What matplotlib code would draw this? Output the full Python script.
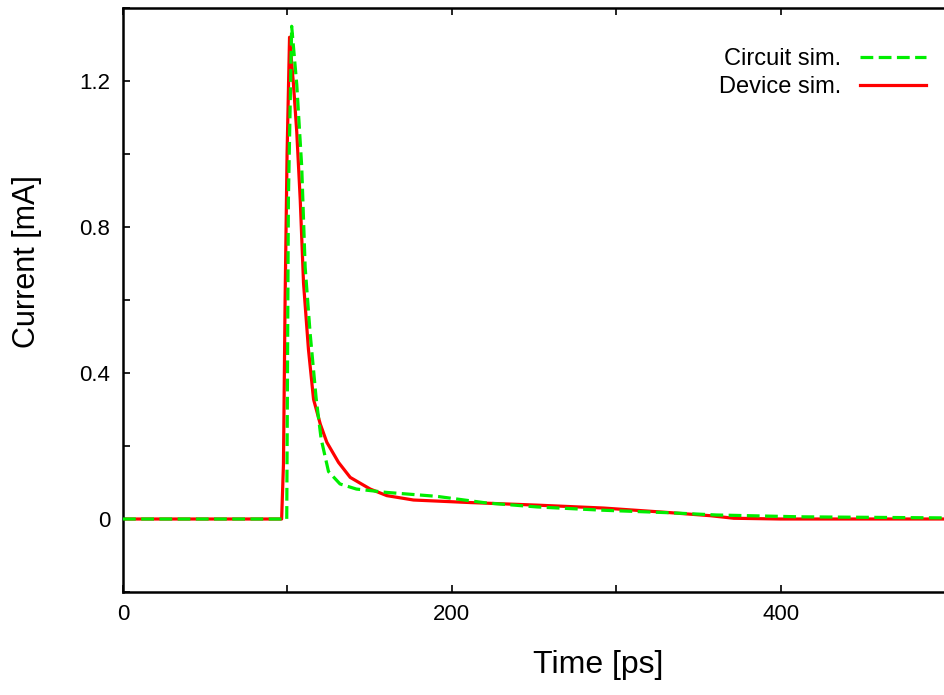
import matplotlib
matplotlib.use("Agg")
import matplotlib.pyplot as plt
from matplotlib.ticker import MultipleLocator

plt.rcParams["font.family"] = ["Liberation Sans", "DejaVu Sans"]

# Device simulation (red, solid)
dev_t = [0, 96.5, 97.6, 98.6, 99.8, 101.3, 103.7, 105.7, 107.8, 109.8, 112.8,
         115.9, 120, 124, 131.1, 138.2, 150.4, 160.5, 176.7, 211.3, 251.8,
         292.4, 331, 357.4, 371.6, 400, 500]
dev_i = [0, 0, 0.15, 0.6, 1.0, 1.32, 1.19, 1.06, 0.875, 0.647, 0.465,
         0.328, 0.26, 0.21, 0.155, 0.114, 0.082, 0.064, 0.052, 0.045, 0.038,
         0.03, 0.018, 0.009, 0.002, 0, 0]

# Circuit simulation (green, dashed)
cir_t = [0, 99.6, 100.6, 102.6, 105.7, 108.7, 110.8, 113.8, 117.5, 120.5,
         125, 132, 142, 160, 191, 221, 252, 292, 333, 361, 412, 500]
cir_i = [0, 0, 0.875, 1.35, 1.19, 0.966, 0.69, 0.51, 0.33, 0.22,
         0.13, 0.096, 0.082, 0.073, 0.062, 0.044, 0.033, 0.024, 0.017, 0.011, 0.006, 0.003]

fig = plt.figure(figsize=(9.45, 6.95), dpi=100)
ax = fig.add_axes([123 / 945, 1 - 592 / 695, 1 - 123 / 945, (592 - 8) / 695])

ax.plot(cir_t, cir_i, color="#00ee00", lw=2.3, dashes=(4, 1.7), label="Circuit sim.", zorder=3)
ax.plot(dev_t, dev_i, color="#ff0000", lw=2.3, label="Device sim.", zorder=2)

ax.set_xlim(0, 500)
ax.set_ylim(-0.2, 1.4)
ax.xaxis.set_major_locator(MultipleLocator(200))
ax.xaxis.set_minor_locator(MultipleLocator(100))
ax.yaxis.set_major_locator(MultipleLocator(0.4))
ax.yaxis.set_minor_locator(MultipleLocator(0.2))
ax.yaxis.set_major_formatter(plt.FuncFormatter(lambda v, p: "0" if abs(v) < 1e-9 else f"{v:.1f}"))

ax.tick_params(which="both", direction="in", top=True, right=False, length=5,
               width=1.2, labelsize=16, pad=9)
for side in ("left", "top", "bottom"):
    ax.spines[side].set_linewidth(1.8)
ax.spines["right"].set_visible(False)

ax.set_xlabel("Time [ps]", fontsize=23)
ax.set_ylabel("Current [mA]", fontsize=22)
ax.xaxis.set_label_coords((598 - 123) / 822, (592 - 665) / 584, transform=ax.transAxes)
ax.yaxis.set_label_coords((27 - 123) / 822, (592 - 262) / 584, transform=ax.transAxes)
ax.xaxis.label.set_va("center")
ax.yaxis.label.set_va("center")

leg = ax.legend(loc="upper right", frameon=False, fontsize=17, markerfirst=False,
                handlelength=2.8, handletextpad=0.8, labelspacing=0.25,
                bbox_to_anchor=(1.003, 0.968))

fig.savefig("out.png", dpi=100)
